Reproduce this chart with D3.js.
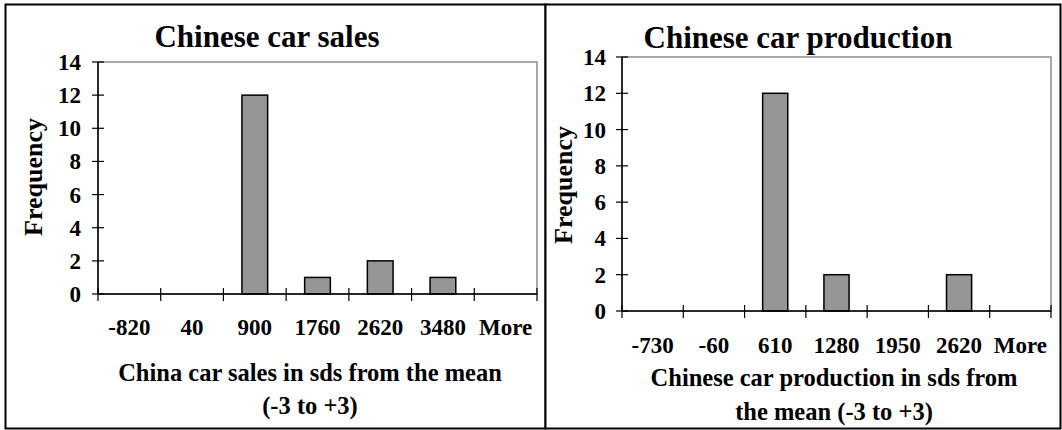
<!DOCTYPE html>
<html>
<head>
<meta charset="utf-8">
<script src="https://cdn.jsdelivr.net/npm/d3@7"></script>
<style>
  html, body { margin: 0; padding: 0; background: #fff; }
  svg { display: block; }
  text { font-family: "Liberation Serif", "Times New Roman", serif; font-weight: bold; fill: #000; }
</style>
</head>
<body>
<svg id="chart" width="1062" height="430"></svg>
<script>
// Histogram bins and frequencies for each panel
const salesBins = ["-820", "40", "900", "1760", "2620", "3480", "More"];
const salesFreq = [0, 0, 12, 1, 2, 1, 0];
const prodBins = ["-730", "-60", "610", "1280", "1950", "2620", "More"];
const prodFreq = [0, 0, 12, 2, 0, 2, 0];
const freqTicks = [0, 2, 4, 6, 8, 10, 12, 14];

const svg = d3.select("#chart");

// Frame of each chart object
svg.append("rect").attr("x", 5.5).attr("y", 4.5).attr("width", 540).attr("height", 424)
  .attr("fill", "#fff").attr("stroke", "#000").attr("stroke-width", 2);
svg.append("rect").attr("x", 545.5).attr("y", 4.5).attr("width", 515).attr("height", 424)
  .attr("fill", "#fff").attr("stroke", "#000").attr("stroke-width", 2);

function panel(cfg) {
  const g = svg.append("g");
  const x = d3.scaleBand().domain(cfg.bins).range([cfg.left, cfg.right]).paddingInner(0).paddingOuter(0);
  const y = d3.scaleLinear().domain([0, 14]).range([cfg.bottom, cfg.top]);

  // plot area outline (grey)
  g.append("rect")
    .attr("x", cfg.left).attr("y", cfg.top)
    .attr("width", cfg.right - cfg.left).attr("height", cfg.bottom - cfg.top)
    .attr("fill", "none").attr("stroke", "#8c8c8c").attr("stroke-width", 1.5);

  // bars
  const bw = x.bandwidth() * 0.41;
  g.selectAll("rect.bar").data(cfg.values.map((v, i) => ({ bin: cfg.bins[i], v })))
    .join("rect").attr("class", "bar")
    .filter(d => d.v > 0)
    .attr("x", d => x(d.bin) + (x.bandwidth() - bw) / 2)
    .attr("y", d => y(d.v))
    .attr("width", bw)
    .attr("height", d => y(0) - y(d.v))
    .attr("fill", "#969696").attr("stroke", "#000").attr("stroke-width", 1.5);

  // y axis line, crossing ticks and labels
  g.append("line").attr("x1", cfg.left).attr("x2", cfg.left).attr("y1", cfg.top).attr("y2", cfg.bottom)
    .attr("stroke", "#000").attr("stroke-width", 1.5);
  g.selectAll("line.yt").data(freqTicks).join("line").attr("class", "yt")
    .attr("x1", cfg.left - 6).attr("x2", cfg.left + 6)
    .attr("y1", d => y(d)).attr("y2", d => y(d))
    .attr("stroke", "#000").attr("stroke-width", 1.2);
  g.selectAll("text.yl").data(freqTicks).join("text").attr("class", "yl")
    .attr("x", cfg.left - cfg.yLabelGap).attr("y", d => y(d))
    .attr("dy", "0.35em").attr("text-anchor", "end")
    .style("font-size", "23px").text(d3.format("d"));

  // x axis with crossing ticks at bin boundaries
  g.append("line").attr("x1", cfg.left).attr("x2", cfg.right).attr("y1", cfg.bottom).attr("y2", cfg.bottom)
    .attr("stroke", "#000").attr("stroke-width", 1.5);
  const bounds = cfg.bins.map(b => x(b)).concat([cfg.right]);
  g.selectAll("line.xt").data(bounds).join("line").attr("class", "xt")
    .attr("x1", d => d).attr("x2", d => d)
    .attr("y1", cfg.bottom - 6).attr("y2", cfg.bottom + 7)
    .attr("stroke", "#000").attr("stroke-width", 1.2);
  g.selectAll("text.xl").data(cfg.bins).join("text").attr("class", "xl")
    .attr("x", d => x(d) + x.bandwidth() / 2).attr("y", cfg.bottom + cfg.xLabelGap)
    .attr("dy", "0.35em").attr("text-anchor", "middle")
    .style("font-size", "23px").text(d => d);

  // titles
  g.append("text").attr("x", cfg.titleX).attr("y", cfg.titleY).attr("text-anchor", "middle")
    .style("font-size", "31px").text(cfg.title);
  cfg.xTitle.forEach((line, i) => {
    g.append("text").attr("x", cfg.xTitleX).attr("y", cfg.xTitleY[i]).attr("dy", "0.35em")
      .attr("text-anchor", "middle").style("font-size", "24.5px").text(line);
  });
  g.append("text")
    .attr("transform", `translate(${cfg.yTitleX},${cfg.yTitleY}) rotate(-90)`)
    .attr("text-anchor", "middle").attr("dy", "0.35em")
    .style("font-size", "26px").text("Frequency");
}

panel({
  bins: salesBins, values: salesFreq,
  left: 98, right: 537, top: 62, bottom: 294,
  yLabelGap: 17, xLabelGap: 33,
  title: "Chinese car sales", titleX: 267, titleY: 47,
  xTitle: ["China car sales in sds from the mean", "(-3 to +3)"], xTitleX: 310, xTitleY: [372, 405],
  yTitleX: 33, yTitleY: 177
});

panel({
  bins: prodBins, values: prodFreq,
  left: 622, right: 1051, top: 57, bottom: 311,
  yLabelGap: 16, xLabelGap: 34,
  title: "Chinese car production", titleX: 798, titleY: 48,
  xTitle: ["Chinese car production in sds from", "the mean (-3 to +3)"], xTitleX: 834, xTitleY: [377, 411],
  yTitleX: 563, yTitleY: 185
});
</script>
</body>
</html>
